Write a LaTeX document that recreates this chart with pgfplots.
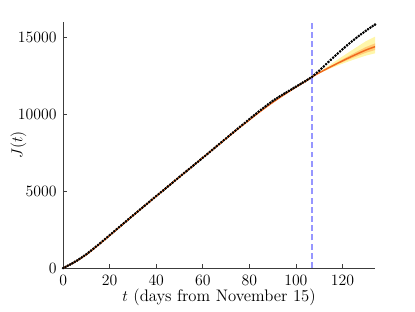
\documentclass[border=0pt]{standalone}
\usepackage{pgfplots}
\pgfplotsset{compat=1.18}
\definecolor{fitorange}{RGB}{240,105,30}
\definecolor{bandyellow}{RGB}{255,246,170}
\definecolor{bandorange}{RGB}{255,205,120}
\definecolor{dashblue}{RGB}{150,150,255}
\definecolor{axgray}{RGB}{60,60,60}
\begin{document}
\begin{tikzpicture}
\begin{axis}[
  scale only axis,
  width=237pt, height=187pt,
  xmin=0, xmax=134, ymin=0, ymax=16000,
  axis lines*=left,
  axis line style={axgray, line width=0.5pt},
  tick style={axgray, line width=0.5pt},
  tick align=inside,
  major tick length=3pt,
  xtick={0,20,40,60,80,100,120},
  ytick={0,5000,10000,15000},
  scaled y ticks=false,
  /pgf/number format/1000 sep={},
  tick label style={font=\fontsize{11.5}{13}\selectfont},
  x tick label style={yshift=-2pt},
  y tick label style={xshift=-1.5pt},
  label style={font=\fontsize{12.7}{15}\selectfont},
  xlabel={$t$ (days from November 15)},
  ylabel={$J(t)$},
  xlabel style={at={(axis description cs:0.5,0)}, anchor=center, yshift=-22.5pt},
  ylabel style={at={(axis description cs:0,0.5)}, anchor=center, yshift=34pt},
  clip=false,
]
% outer prediction band
\addplot[fill=bandyellow, draw=none] coordinates {
(107,12430) (110,12740) (115,13250) (120,13757) (125,14254) (130,14740) (134,15040)
(134,13960) (130,13807) (125,13560) (120,13287) (115,12988) (110,12658) (107,12430)
} -- cycle;
% inner band
\addplot[fill=bandorange, draw=none] coordinates {
(107,12430) (110,12707) (115,13145) (120,13568) (125,13975) (130,14364) (134,14605)
(134,14175) (130,13993) (125,13698) (120,13381) (115,13040) (110,12675) (107,12430)
} -- cycle;
% fit line
\addplot[fitorange, line width=1.1pt, smooth] coordinates {
(0,0) (5,390) (10,880) (15,1480) (20,2120) (25,2765) (30,3405) (35,4040) (40,4670)
(45,5295) (50,5920) (55,6545) (60,7170) (65,7795) (70,8415) (75,9030) (80,9630)
(85,10215) (90,10765) (95,11275) (100,11760) (105,12225) (107,12430)
(110,12690) (115,13090) (120,13470) (125,13830) (130,14170) (134,14390)
};
% cutoff
\addplot[dashblue, line width=1.2pt, dash pattern=on 4.5pt off 2.5pt] coordinates {(107,0) (107,16000)};
% data
\addplot[only marks, mark=*, mark size=0.8pt, black] coordinates {
(0,0) (1,70) (2,150) (3,230) (4,315) (5,400)
(6,490) (7,590) (8,690) (9,795) (10,900)
(11,1015) (12,1135) (13,1255) (14,1380) (15,1500)
(16,1625) (17,1755) (18,1880) (19,2010) (20,2140)
(21,2265) (22,2395) (23,2525) (24,2655) (25,2780)
(26,2910) (27,3035) (28,3165) (29,3290) (30,3420)
(31,3545) (32,3670) (33,3800) (34,3925) (35,4050)
(36,4175) (37,4300) (38,4430) (39,4555) (40,4680)
(41,4805) (42,4930) (43,5050) (44,5175) (45,5300)
(46,5425) (47,5550) (48,5680) (49,5805) (50,5930)
(51,6055) (52,6180) (53,6300) (54,6425) (55,6550)
(56,6675) (57,6800) (58,6920) (59,7045) (60,7170)
(61,7295) (62,7420) (63,7545) (64,7675) (65,7800)
(66,7925) (67,8055) (68,8180) (69,8305) (70,8430)
(71,8560) (72,8685) (73,8810) (74,8935) (75,9060)
(76,9185) (77,9310) (78,9430) (79,9555) (80,9680)
(81,9805) (82,9925) (83,10045) (84,10170) (85,10290)
(86,10405) (87,10520) (88,10635) (89,10750) (90,10860)
(91,10960) (92,11060) (93,11155) (94,11250) (95,11340)
(96,11430) (97,11520) (98,11610) (99,11700) (100,11790)
(101,11880) (102,11970) (103,12060) (104,12150) (105,12240)
(106,12340) (107,12440)
(108,12570) (109,12700) (110,12830) (111,12970) (112,13110) (113,13255) (114,13400)
(115,13540) (116,13680) (117,13815) (118,13950) (119,14085) (120,14220) (121,14350)
(122,14480) (123,14605) (124,14730) (125,14850) (126,14970) (127,15085) (128,15200)
(129,15310) (130,15420) (131,15525) (132,15630) (133,15730) (134,15830)
};
\end{axis}
\pgfresetboundingbox
\path ([shift={(-48pt,-33.4pt)}]current axis.south west) rectangle ([shift={(30.4pt,16.7pt)}]current axis.north east);
\end{tikzpicture}
\end{document}
